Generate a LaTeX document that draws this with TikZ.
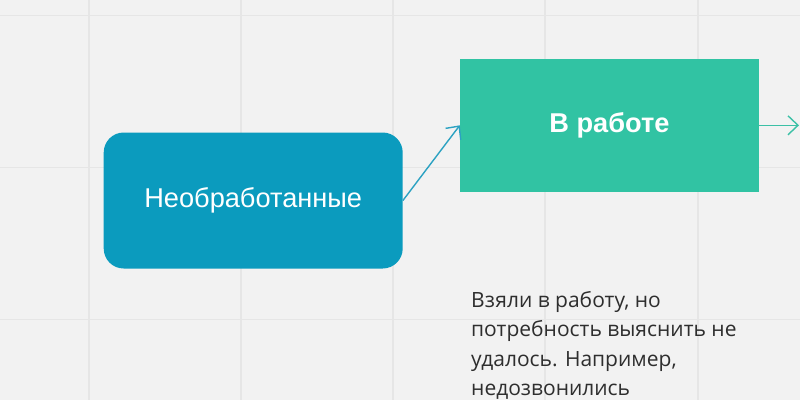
\documentclass[tikz,border=0pt]{standalone}
\usepackage{fontspec}
\setmainfont{Liberation Sans}
\newfontfamily\osans{Open Sans}
\usetikzlibrary{arrows.meta}
\definecolor{bgc}{HTML}{F2F2F2}
\definecolor{gridc}{HTML}{E6E6E6}
\definecolor{bluec}{HTML}{0B9BBE}
\definecolor{greenc}{HTML}{31C3A3}
\definecolor{arrblue}{HTML}{2CA2C2}
\definecolor{arrgreen}{HTML}{3CC0A6}
\definecolor{txtc}{HTML}{2E2E2E}
\tikzset{
  bluebox/.style={fill=bluec, rounded corners=20pt, minimum width=299pt, minimum height=136pt,
    text=white, font=\fontsize{27.2}{30}\selectfont, inner sep=0pt},
  greenbox/.style={fill=greenc, minimum width=299pt, minimum height=132.5pt,
    text=white, font=\fontsize{27.2}{30}\selectfont\bfseries, inner sep=0pt},
  conn/.style={line width=1.4pt, -{Straight Barb[length=10pt,width=19pt,line width=1.4pt]}},
  note/.style={text=txtc, font=\osans\fontsize{21}{29.6}\selectfont, align=left, inner sep=0pt, anchor=north west},
  gridline/.style={gridc, line width=1.3pt}
}
\begin{document}
\begin{tikzpicture}[x=1pt,y=-1pt]
\fill[bgc] (0,0) rectangle (800,400);
\useasboundingbox (0,0) rectangle (800,400);
\foreach \gx in {89,241,393,545,698} \draw[gridline] (\gx,0) -- (\gx,400);
\foreach \gy in {15.7,167.7,319.7} \draw[gridline] (0,\gy) -- (800,\gy);
\node[bluebox] (new) at (253.2,200.5) {Необработанные};
\node[greenbox] (work) at (609.5,125.3) {\raisebox{-1.5pt}{В работе}};
\coordinate (out) at (799,125.3);
\draw[conn, arrblue] (new.east) -- (work.west);
\draw[conn, arrgreen] (work.east) -- (out);
\node[note] (desc) at (471,290.8) {Взяли в работу, но\\потребность выяснить не\\удалось. Например,\\недозвонились};
\end{tikzpicture}
\end{document}
